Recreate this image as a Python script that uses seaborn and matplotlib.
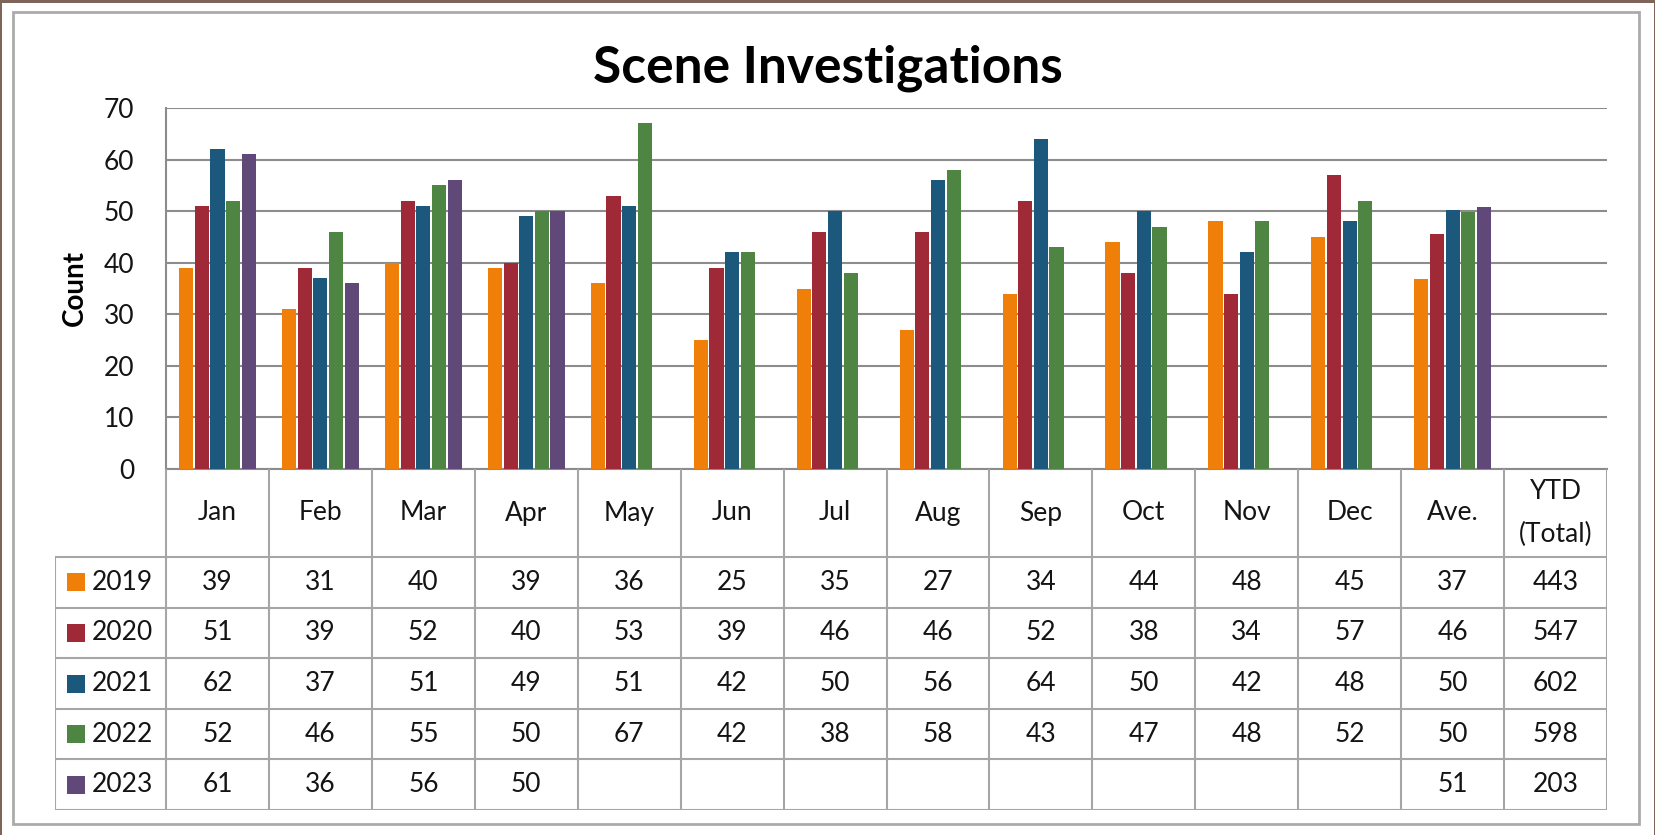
import pandas as pd
import seaborn as sns
import matplotlib.pyplot as plt
from matplotlib.patches import Rectangle

# data
categories = ['Jan', 'Feb', 'Mar', 'Apr', 'May', 'Jun', 'Jul', 'Aug', 'Sep',
              'Oct', 'Nov', 'Dec', 'Ave.']
years = ['2019', '2020', '2021', '2022', '2023']
colors = ['#F07F09', '#9F2936', '#1B587C', '#4E8542', '#604878']

y2019 = [39, 31, 40, 39, 36, 25, 35, 27, 34, 44, 48, 45]
y2020 = [51, 39, 52, 40, 53, 39, 46, 46, 52, 38, 34, 57]
y2021 = [62, 37, 51, 49, 51, 42, 50, 56, 64, 50, 42, 48]
y2022 = [52, 46, 55, 50, 67, 42, 38, 58, 43, 47, 48, 52]
y2023 = [61, 36, 56, 50]

ave_bars = [36.9, 45.6, 50.2, 49.8, 50.8]   # bar heights of the Ave. group
ave_labels = ['37', '46', '50', '50', '51']
ytd_labels = ['443', '547', '602', '598', '203']

series = {'2019': y2019, '2020': y2020, '2021': y2021, '2022': y2022, '2023': y2023}

rows = []
for i, yr in enumerate(years):
    for m, v in zip(categories[:12], series[yr]):
        rows.append({'Month': m, 'Year': yr, 'Count': v})
    rows.append({'Month': 'Ave.', 'Year': yr, 'Count': ave_bars[i]})
df = pd.DataFrame(rows)

order = categories + ['YTD']

plt.rcParams['font.family'] = ['Lato', 'DejaVu Sans']
fs = 19
txt_c = '#141414'

W, H = 1656, 835
fig = plt.figure(figsize=(W / 100, H / 100), dpi=100, facecolor='white')

# brown screenshot edges (top, left, right) + grey chart frame
brown = '#7E6459'
for (bx, by, bw, bh) in [(0, H - 3, W, 3), (0, 0, 2, H), (W - 2, 0, 2, H)]:
    fig.patches.append(Rectangle((bx / W, by / H), bw / W, bh / H,
                                 transform=fig.transFigure, facecolor=brown,
                                 edgecolor='none', zorder=-1))
fig.patches.append(Rectangle((13 / W, (H - 824) / H), (1639 - 13) / W, (824 - 12) / H,
                             transform=fig.transFigure, facecolor='none',
                             edgecolor='#ABABAB', linewidth=2, zorder=-1))

# plot area
x0, x1, ytop, y0 = 166, 1607, 108, 469
ax = fig.add_axes([x0 / W, (H - y0) / H, (x1 - x0) / W, (y0 - ytop) / H])
ax.set_facecolor('none')

sns.barplot(data=df, x='Month', y='Count', hue='Year', order=order,
            hue_order=years, palette=colors, saturation=1, width=0.76, gap=0.1,
            errorbar=None, legend=False, ax=ax, zorder=3)

ax.set_xlim(-0.5, len(order) - 0.5)
ax.set_ylim(0, 70)
ax.set_yticks(range(0, 71, 10))
ax.yaxis.grid(True, color='#8C8C8C', linewidth=1.5, zorder=0)
ax.set_axisbelow(True)
ax.tick_params(axis='y', length=0, pad=23, labelsize=fs, labelcolor=txt_c)
ax.set_xticks([])
ax.set_xlabel('')
ax.set_ylabel('')
for s in ['top', 'right']:
    ax.spines[s].set_visible(False)
for s in ['left', 'bottom']:
    ax.spines[s].set_color('#8C8C8C')
    ax.spines[s].set_linewidth(1.5)

fig.text(828 / W, (H - 83) / H, 'Scene Investigations', ha='center',
         va='baseline', fontsize=37, fontweight='bold', color='black')
fig.text(75 / W, (H - 288) / H, 'Count', rotation=90, ha='center',
         va='center', fontsize=20, fontweight='bold', color='black')

# data table under the plot
tl, tb = 55, 810
unit = (x1 - x0) / len(order)
ax_t = fig.add_axes([tl / W, (H - tb) / H, (x1 - tl) / W, (tb - y0) / H])
ax_t.set_xlim(-0.5 - (x0 - tl) / unit, len(order) - 0.5)
ax_t.set_ylim(tb - y0, 0)
ax_t.axis('off')

grid_c = '#A6A6A6'
head_h = 88
row_h = (tb - y0 - head_h) / len(years)
lx = -0.5 - (x0 - tl) / unit

for k in range(len(order) + 1):
    ax_t.vlines(k - 0.5, 0, tb - y0, color=grid_c, linewidth=1.5)
ax_t.vlines(lx, head_h, tb - y0, color=grid_c, linewidth=1.5)
for r in range(len(years) + 1):
    ax_t.hlines(head_h + r * row_h, lx, len(order) - 0.5, color=grid_c, linewidth=1.5)

for k, c in enumerate(categories):
    ax_t.text(k, head_h / 2, c, ha='center', va='center', fontsize=fs, color=txt_c)
ax_t.text(13, head_h / 2 - 21, 'YTD', ha='center', va='center', fontsize=fs, color=txt_c)
ax_t.text(13, head_h / 2 + 21, '(Total)', ha='center', va='center', fontsize=fs, color=txt_c)

for r, yr in enumerate(years):
    yc = head_h + (r + 0.5) * row_h
    ax_t.scatter([lx + 21 / unit], [yc], marker='s', s=150, color=colors[r],
                 linewidths=0, clip_on=False)
    ax_t.text(lx + 37 / unit, yc, yr, ha='left', va='center', fontsize=fs, color=txt_c)
    for k, v in enumerate(series[yr]):
        ax_t.text(k, yc, str(v), ha='center', va='center', fontsize=fs, color=txt_c)
    ax_t.text(12, yc, ave_labels[r], ha='center', va='center', fontsize=fs, color=txt_c)
    ax_t.text(13, yc, ytd_labels[r], ha='center', va='center', fontsize=fs, color=txt_c)

fig.savefig('out.png', dpi=100)
